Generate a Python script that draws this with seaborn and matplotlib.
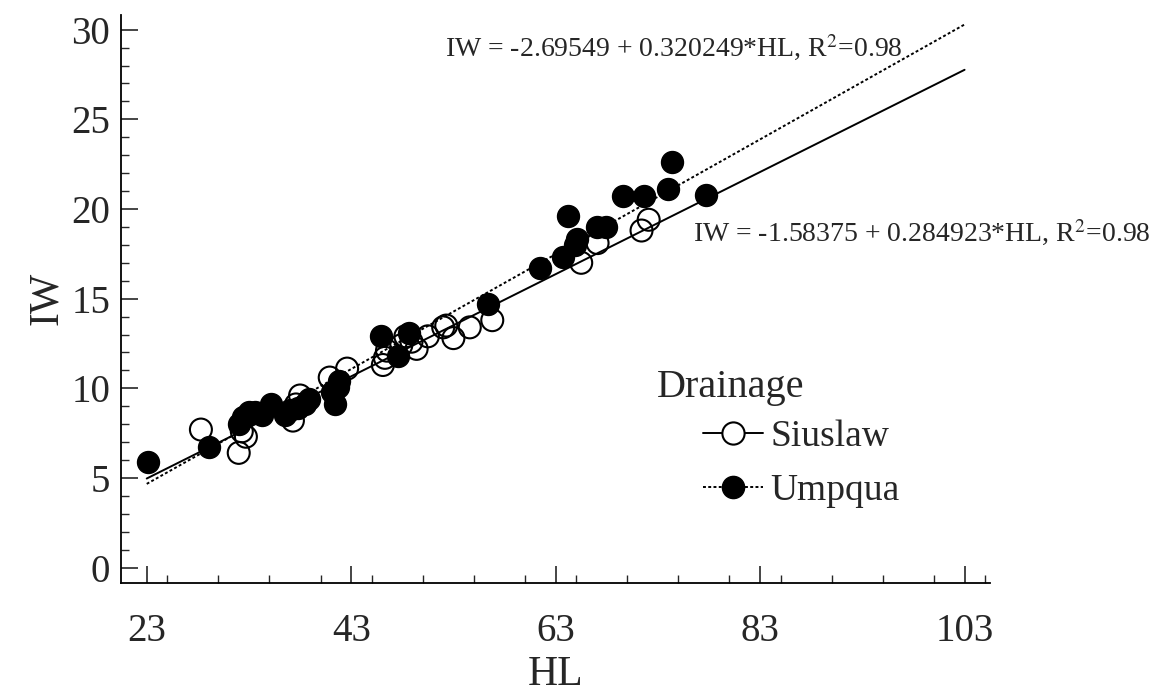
import matplotlib.pyplot as plt
import pandas as pd
import seaborn as sns
from matplotlib.lines import Line2D
from matplotlib.ticker import MultipleLocator

# Siuslaw (open circles)
siuslaw_hl = [28.3, 32.0, 32.3, 32.7, 37.3, 38.0, 37.6, 40.9, 42.6, 46.1, 46.3, 46.5, 47.9,
              48.3, 48.9, 49.4, 50.5, 52.0, 52.3, 53.0, 54.6, 56.8, 65.5, 67.1, 71.4, 72.1]
siuslaw_iw = [7.7, 6.4, 7.6, 7.3, 8.2, 9.6, 9.1, 10.6, 11.1, 11.3, 11.7, 12.1, 12.4,
              12.9, 12.6, 12.2, 12.9, 13.4, 13.5, 12.8, 13.4, 13.8, 17.0, 18.1, 18.8, 19.4]

# Umpqua (filled circles)
umpqua_hl = [23.1, 29.1, 32.0, 32.4, 33.0, 33.6, 34.3, 35.2, 36.5, 37.0, 37.8, 38.5, 38.9,
             41.1, 41.4, 41.8, 41.7, 45.9, 47.6, 48.7, 56.4, 61.5, 63.7, 64.2, 64.9, 65.1,
             67.0, 67.9, 69.6, 71.6, 74.0, 74.4, 77.7]
umpqua_iw = [5.9, 6.7, 8.0, 8.4, 8.7, 8.7, 8.5, 9.1, 8.5, 8.8, 8.9, 9.1, 9.4,
             9.8, 9.1, 10.4, 10.1, 12.9, 11.8, 13.1, 14.7, 16.7, 17.3, 19.6, 18.0, 18.3,
             19.0, 19.0, 20.7, 20.7, 21.1, 22.6, 20.8]

# fitted lines (from the equations on the chart)
line_x = [23, 103]
siuslaw_fit = (-1.58375, 0.284923)
umpqua_fit = (-2.69549, 0.320249)

xticks = [23, 43, 63, 83, 103]
yticks = [0, 5, 10, 15, 20, 25, 30]


def main():
    sns.set_style("ticks")
    plt.rcParams["font.family"] = ["Liberation Serif", "DejaVu Serif"]
    plt.rcParams["mathtext.fontset"] = "stix"

    df = pd.concat([
        pd.DataFrame({"HL": siuslaw_hl, "IW": siuslaw_iw, "Drainage": "Siuslaw"}),
        pd.DataFrame({"HL": umpqua_hl, "IW": umpqua_iw, "Drainage": "Umpqua"}),
    ])

    W, H = 1154, 697
    fig = plt.figure(figsize=(W / 100, H / 100), dpi=100)
    ax = fig.add_axes([0.105, 0.164, 0.753, 0.815])

    fit_df = pd.DataFrame({
        "HL": line_x * 2,
        "IW": [siuslaw_fit[0] + siuslaw_fit[1] * x for x in line_x]
        + [umpqua_fit[0] + umpqua_fit[1] * x for x in line_x],
        "Drainage": ["Siuslaw"] * 2 + ["Umpqua"] * 2,
    })
    sns.lineplot(data=fit_df[fit_df.Drainage == "Siuslaw"], x="HL", y="IW",
                 color="black", lw=1.4, ax=ax, legend=False)
    sns.lineplot(data=fit_df[fit_df.Drainage == "Umpqua"], x="HL", y="IW",
                 color="black", lw=1.4, ls=(0, (1.5, 1.2)), ax=ax, legend=False)

    sns.scatterplot(data=df[df.Drainage == "Siuslaw"], x="HL", y="IW", s=250,
                    facecolor="none", edgecolor="black", linewidth=1.5, ax=ax,
                    legend=False, zorder=3)
    sns.scatterplot(data=df[df.Drainage == "Umpqua"], x="HL", y="IW", s=250,
                    color="black", edgecolor="black", linewidth=1.0, ax=ax,
                    legend=False, zorder=4)

    ax.set_xlim(20.5, 105.5)
    ax.set_ylim(-0.84, 30.84)
    ax.set_xticks(xticks)
    ax.set_yticks(yticks)
    ax.xaxis.set_minor_locator(MultipleLocator(5))
    ax.yaxis.set_minor_locator(MultipleLocator(1))
    ax.tick_params(which="major", direction="in", length=12, width=1.2, labelsize=28)
    ax.tick_params(axis="x", which="major", pad=22)
    ax.tick_params(axis="y", which="major", pad=8)
    ax.tick_params(which="minor", direction="in", length=6, width=1.0)
    for s in ["top", "right"]:
        ax.spines[s].set_visible(False)
    for s in ["left", "bottom"]:
        ax.spines[s].set_linewidth(1.3)
        ax.spines[s].set_color("black")

    ax.set_xlabel("HL", fontsize=30, labelpad=4)
    ax.set_ylabel("IW", fontsize=30, labelpad=4)

    fig.text(445 / W, 1 - 48 / H, "IW = -2.69549 + 0.320249*HL, R$^{2}$=0.98",
             fontsize=20, va="center", ha="left")
    fig.text(693 / W, 1 - 233 / H, "IW = -1.58375 + 0.284923*HL, R$^{2}$=0.98",
             fontsize=20, va="center", ha="left")

    handles = [
        Line2D([], [], color="black", lw=1.4, marker="o", markersize=16,
               markerfacecolor="white", markeredgewidth=1.5),
        Line2D([], [], color="black", lw=1.4, ls=(0, (1.5, 1.2)), marker="o",
               markersize=16, markerfacecolor="black"),
    ]
    fig.text(657 / W, 1 - 388 / H, "Drainage", fontsize=29, va="center")
    ax.legend(handles, ["Siuslaw", "Umpqua"], loc="upper left", frameon=False,
              bbox_to_anchor=(703 / W, 1 - 420 / H), bbox_transform=fig.transFigure,
              fontsize=27, handlelength=1.6, handletextpad=0.2, labelspacing=0.5,
              borderpad=0, borderaxespad=0)

    fig.savefig("out.png", dpi=100)


if __name__ == "__main__":
    main()
